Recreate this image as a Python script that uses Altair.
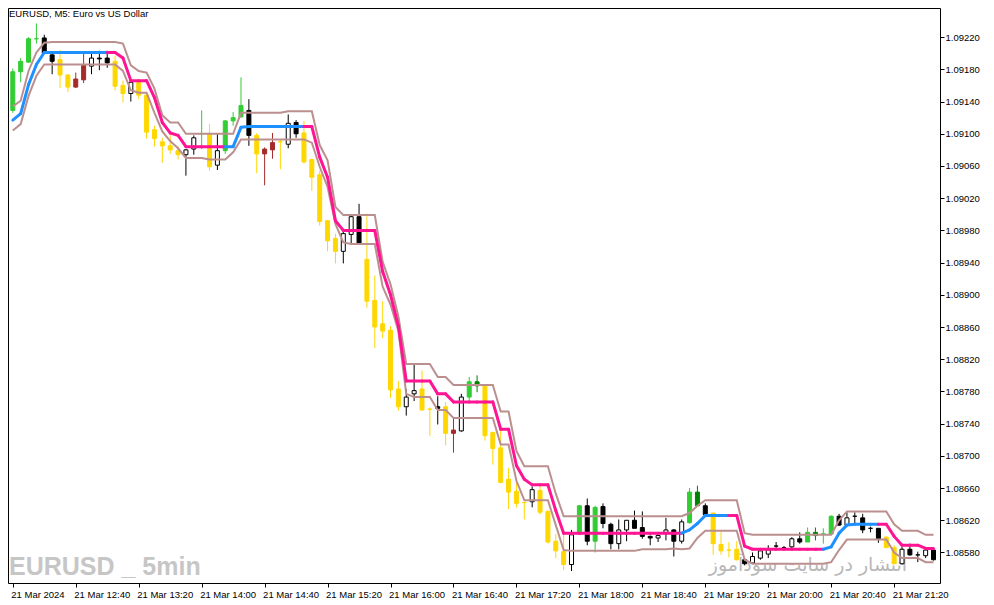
import json
import altair as alt
import pandas as pd

# ---------------- data ----------------
opens = [1.09129, 1.09177, 1.09189, 1.09218, 1.09219, 1.09198, 1.09192, 1.09173, 1.09158, 1.09167,
         1.09184, 1.09194, 1.09194, 1.09190, 1.09160, 1.09150, 1.09164, 1.09148, 1.09105, 1.09090,
         1.09085, 1.09079, 1.09074, 1.09081, 1.09100, 1.09099, 1.09061, 1.09079, 1.09116, 1.09121,
         1.09129, 1.09098, 1.09075, 1.09080, 1.09090, 1.09087, 1.09114, 1.09101, 1.09068, 1.09049,
         1.08992, 1.08970, 1.08954, 1.08975, 1.08997, 1.08944, 1.08893, 1.08864, 1.08856, 1.08783,
         1.08761, 1.08777, 1.08783, 1.08758, 1.08761, 1.08761, 1.08728, 1.08731, 1.08773, 1.08792,
         1.08787, 1.08729, 1.08710, 1.08671, 1.08656, 1.08642, 1.08643, 1.08657, 1.08631, 1.08594,
         1.08581, 1.08565, 1.08603, 1.08638, 1.08594, 1.08637, 1.08615, 1.08591, 1.08608, 1.08620,
         1.08611, 1.08600, 1.08598, 1.08604, 1.08608, 1.08594, 1.08617, 1.08655, 1.08638, 1.08629,
         1.08590, 1.08583, 1.08584, 1.08571, 1.08567, 1.08573, 1.08578, 1.08588, 1.08586, 1.08587,
         1.08597, 1.08593, 1.08605, 1.08603, 1.08603, 1.08625, 1.08614, 1.08625, 1.08623, 1.08610,
         1.08610, 1.08599, 1.08586, 1.08566, 1.08584, 1.08577, 1.08576, 1.08583]
highs = [1.09181, 1.09194, 1.09220, 1.09237, 1.09223, 1.09199, 1.09204, 1.09174, 1.09176, 1.09202,
         1.09199, 1.09203, 1.09203, 1.09197, 1.09166, 1.09166, 1.09167, 1.09149, 1.09110, 1.09095,
         1.09098, 1.09084, 1.09081, 1.09098, 1.09129, 1.09112, 1.09100, 1.09117, 1.09127, 1.09170,
         1.09143, 1.09101, 1.09083, 1.09101, 1.09092, 1.09124, 1.09117, 1.09116, 1.09069, 1.09054,
         1.08993, 1.08976, 1.08980, 1.08999, 1.09013, 1.09001, 1.08924, 1.08892, 1.08861, 1.08793,
         1.08783, 1.08815, 1.08806, 1.08760, 1.08774, 1.08767, 1.08746, 1.08777, 1.08798, 1.08800,
         1.08789, 1.08730, 1.08733, 1.08685, 1.08667, 1.08643, 1.08662, 1.08665, 1.08632, 1.08603,
         1.08603, 1.08608, 1.08639, 1.08647, 1.08638, 1.08641, 1.08617, 1.08621, 1.08620, 1.08632,
         1.08631, 1.08601, 1.08601, 1.08623, 1.08609, 1.08621, 1.08660, 1.08663, 1.08641, 1.08629,
         1.08608, 1.08593, 1.08594, 1.08573, 1.08580, 1.08584, 1.08589, 1.08593, 1.08588, 1.08599,
         1.08605, 1.08611, 1.08611, 1.08610, 1.08626, 1.08628, 1.08630, 1.08630, 1.08628, 1.08612,
         1.08610, 1.08600, 1.08589, 1.08587, 1.08591, 1.08581, 1.08584, 1.08585]
lows = [1.09126, 1.09164, 1.09188, 1.09212, 1.09199, 1.09174, 1.09157, 1.09152, 1.09157, 1.09163,
        1.09174, 1.09179, 1.09182, 1.09154, 1.09139, 1.09140, 1.09143, 1.09094, 1.09084, 1.09064,
        1.09075, 1.09068, 1.09048, 1.09074, 1.09081, 1.09054, 1.09055, 1.09075, 1.09110, 1.09120,
        1.09085, 1.09051, 1.09036, 1.09069, 1.09056, 1.09082, 1.09095, 1.09063, 1.09029, 1.08986,
        1.08954, 1.08939, 1.08939, 1.08964, 1.08962, 1.08884, 1.08834, 1.08846, 1.08772, 1.08756,
        1.08750, 1.08768, 1.08756, 1.08725, 1.08739, 1.08713, 1.08704, 1.08730, 1.08768, 1.08779,
        1.08719, 1.08689, 1.08666, 1.08634, 1.08636, 1.08621, 1.08636, 1.08627, 1.08591, 1.08573,
        1.08558, 1.08557, 1.08603, 1.08589, 1.08580, 1.08610, 1.08584, 1.08584, 1.08594, 1.08610,
        1.08597, 1.08589, 1.08593, 1.08595, 1.08575, 1.08591, 1.08616, 1.08638, 1.08626, 1.08577,
        1.08577, 1.08574, 1.08570, 1.08564, 1.08566, 1.08571, 1.08573, 1.08584, 1.08583, 1.08585,
        1.08591, 1.08593, 1.08595, 1.08591, 1.08603, 1.08613, 1.08613, 1.08616, 1.08604, 1.08605,
        1.08592, 1.08586, 1.08566, 1.08565, 1.08576, 1.08568, 1.08573, 1.08570]
closes = [1.09177, 1.09190, 1.09218, 1.09218, 1.09200, 1.09190, 1.09173, 1.09158, 1.09168, 1.09185,
          1.09194, 1.09193, 1.09188, 1.09159, 1.09150, 1.09164, 1.09148, 1.09102, 1.09094, 1.09085,
          1.09080, 1.09074, 1.09080, 1.09095, 1.09100, 1.09059, 1.09079, 1.09116, 1.09120, 1.09135,
          1.09098, 1.09075, 1.09081, 1.09089, 1.09090, 1.09113, 1.09100, 1.09065, 1.09046, 1.08991,
          1.08967, 1.08954, 1.08976, 1.08997, 1.08963, 1.08892, 1.08860, 1.08855, 1.08782, 1.08761,
          1.08773, 1.08781, 1.08757, 1.08758, 1.08759, 1.08728, 1.08732, 1.08773, 1.08792, 1.08787,
          1.08725, 1.08709, 1.08667, 1.08655, 1.08641, 1.08642, 1.08658, 1.08630, 1.08593, 1.08582,
          1.08565, 1.08602, 1.08638, 1.08594, 1.08636, 1.08616, 1.08591, 1.08608, 1.08620, 1.08610,
          1.08600, 1.08598, 1.08601, 1.08608, 1.08594, 1.08618, 1.08655, 1.08638, 1.08627, 1.08591,
          1.08582, 1.08583, 1.08571, 1.08566, 1.08575, 1.08582, 1.08584, 1.08588, 1.08586, 1.08597,
          1.08593, 1.08605, 1.08601, 1.08603, 1.08625, 1.08614, 1.08623, 1.08625, 1.08608, 1.08610,
          1.08597, 1.08586, 1.08566, 1.08584, 1.08577, 1.08577, 1.08583, 1.08571]
candle_colors = ["lime", "lime", "lime", "lime", "black", "black", "gold", "gold", "brown", "brown",
                 "white", "black", "black", "gold", "gold", "white", "gold", "gold", "gold", "gold",
                 "gold", "gold", "white", "white", "lime", "gold", "white", "lime", "lime", "lime",
                 "black", "gold", "brown", "brown", "gold", "white", "black", "gold", "gold", "gold",
                 "gold", "gold", "white", "white", "black", "gold", "gold", "gold", "gold", "gold",
                 "white", "white", "gold", "gold", "black", "gold", "brown", "white", "lime", "green",
                 "gold", "gold", "gold", "gold", "gold", "gold", "white", "gold", "gold", "gold",
                 "gold", "white", "lime", "black", "lime", "black", "black", "white", "white", "black",
                 "black", "black", "white", "white", "black", "white", "lime", "green", "black", "gold",
                 "gold", "gold", "gold", "black", "white", "white", "white", "black", "black", "white",
                 "black", "lime", "green", "lime", "lime", "black", "white", "black", "black", "black",
                 "black", "gold", "gold", "white", "black", "black", "white", "black"]
upper_band = [1.09134, 1.09141, 1.09178, 1.09201, 1.09213, 1.09214, 1.09214, 1.09214, 1.09214, 1.09214,
              1.09214, 1.09214, 1.09214, 1.09214, 1.09212, 1.09185, 1.09178, 1.09176, 1.09156, 1.09123,
              1.09114, 1.09114, 1.09100, 1.09100, 1.09100, 1.09100, 1.09100, 1.09100, 1.09100, 1.09126,
              1.09126, 1.09126, 1.09126, 1.09126, 1.09126, 1.09128, 1.09128, 1.09128, 1.09128, 1.09086,
              1.09067, 1.09009, 1.08999, 1.08999, 1.08999, 1.08999, 1.08999, 1.08941, 1.08913, 1.08873,
              1.08814, 1.08814, 1.08814, 1.08814, 1.08798, 1.08798, 1.08788, 1.08788, 1.08788, 1.08788,
              1.08788, 1.08788, 1.08755, 1.08755, 1.08706, 1.08687, 1.08687, 1.08687, 1.08687, 1.08653,
              1.08625, 1.08625, 1.08625, 1.08625, 1.08625, 1.08625, 1.08625, 1.08625, 1.08625, 1.08625,
              1.08625, 1.08625, 1.08625, 1.08625, 1.08625, 1.08625, 1.08629, 1.08638, 1.08645, 1.08645,
              1.08645, 1.08645, 1.08645, 1.08604, 1.08602, 1.08602, 1.08602, 1.08602, 1.08602, 1.08602,
              1.08602, 1.08602, 1.08602, 1.08602, 1.08602, 1.08620, 1.08631, 1.08631, 1.08631, 1.08631,
              1.08631, 1.08631, 1.08615, 1.08607, 1.08607, 1.08607, 1.08602, 1.08602]
middle_band = [1.09117, 1.09125, 1.09161, 1.09186, 1.09201, 1.09201, 1.09201, 1.09201, 1.09201, 1.09201,
               1.09201, 1.09201, 1.09201, 1.09201, 1.09194, 1.09166, 1.09166, 1.09166, 1.09145, 1.09114,
               1.09101, 1.09098, 1.09084, 1.09084, 1.09084, 1.09084, 1.09084, 1.09084, 1.09084, 1.09108,
               1.09109, 1.09109, 1.09109, 1.09109, 1.09109, 1.09109, 1.09109, 1.09109, 1.09109, 1.09071,
               1.09046, 1.08992, 1.08980, 1.08980, 1.08980, 1.08980, 1.08980, 1.08929, 1.08900, 1.08861,
               1.08793, 1.08793, 1.08793, 1.08793, 1.08777, 1.08777, 1.08767, 1.08767, 1.08767, 1.08767,
               1.08767, 1.08767, 1.08733, 1.08733, 1.08688, 1.08671, 1.08664, 1.08664, 1.08664, 1.08632,
               1.08604, 1.08604, 1.08604, 1.08604, 1.08604, 1.08604, 1.08604, 1.08604, 1.08604, 1.08604,
               1.08604, 1.08604, 1.08604, 1.08604, 1.08604, 1.08604, 1.08608, 1.08616, 1.08626, 1.08626,
               1.08626, 1.08626, 1.08626, 1.08588, 1.08584, 1.08584, 1.08584, 1.08584, 1.08584, 1.08584,
               1.08584, 1.08584, 1.08584, 1.08584, 1.08587, 1.08604, 1.08614, 1.08615, 1.08615, 1.08615,
               1.08615, 1.08615, 1.08600, 1.08589, 1.08589, 1.08589, 1.08585, 1.08585]
lower_band = [1.09104, 1.09112, 1.09147, 1.09172, 1.09186, 1.09186, 1.09186, 1.09186, 1.09186, 1.09186,
              1.09186, 1.09186, 1.09186, 1.09186, 1.09178, 1.09154, 1.09151, 1.09151, 1.09126, 1.09103,
              1.09091, 1.09082, 1.09070, 1.09070, 1.09070, 1.09068, 1.09068, 1.09068, 1.09077, 1.09093,
              1.09093, 1.09093, 1.09093, 1.09093, 1.09093, 1.09093, 1.09093, 1.09093, 1.09089, 1.09059,
              1.09034, 1.08988, 1.08965, 1.08963, 1.08963, 1.08963, 1.08963, 1.08910, 1.08888, 1.08855,
              1.08777, 1.08773, 1.08773, 1.08773, 1.08757, 1.08757, 1.08747, 1.08747, 1.08747, 1.08747,
              1.08747, 1.08747, 1.08714, 1.08714, 1.08669, 1.08645, 1.08645, 1.08645, 1.08645, 1.08614,
              1.08583, 1.08582, 1.08582, 1.08582, 1.08582, 1.08582, 1.08582, 1.08582, 1.08582, 1.08582,
              1.08584, 1.08584, 1.08584, 1.08584, 1.08585, 1.08584, 1.08585, 1.08598, 1.08607, 1.08607,
              1.08607, 1.08607, 1.08607, 1.08571, 1.08566, 1.08566, 1.08566, 1.08566, 1.08566, 1.08566,
              1.08566, 1.08566, 1.08566, 1.08566, 1.08568, 1.08583, 1.08596, 1.08596, 1.08596, 1.08596,
              1.08596, 1.08596, 1.08580, 1.08573, 1.08573, 1.08573, 1.08568, 1.08568]
# trend state of the middle line per bar: u = rising (blue), d = falling (pink)
trend_codes = ("uuuuuuuuuuuuu" + "ddddddddddddddd" + "uuuuuuuuuu"
               + "dddddddddddddddddddddddddddddddddddddddddddddddd" + "uuuuuu"
               + "dddddddddddd" + "uuuuuuu" + "ddddddd")

price_ticks = [1.08580, 1.08620, 1.08660, 1.08700, 1.08740, 1.08780, 1.08820, 1.08860, 1.08900,
               1.08940, 1.08980, 1.09020, 1.09060, 1.09100, 1.09140, 1.09180, 1.09220]
time_tick_bars = [0, 8, 16, 24, 32, 40, 48, 56, 64, 72, 80, 88, 96, 104, 112]
time_tick_labels = ["21 Mar 2024", "21 Mar 12:40", "21 Mar 13:20", "21 Mar 14:00", "21 Mar 14:40",
                    "21 Mar 15:20", "21 Mar 16:00", "21 Mar 16:40", "21 Mar 17:20", "21 Mar 18:00",
                    "21 Mar 18:40", "21 Mar 19:20", "21 Mar 20:00", "21 Mar 20:40", "21 Mar 21:20"]

title_text = "EURUSD, M5:  Euro vs US Dollar"
watermark_text = "EURUSD _ 5min"
persian_text = "انتشار در سایت سودآموز"

# ---------------- styling ----------------
FONT = "Liberation Sans"
FS = 9.5
fill_map = {"lime": "#32CD32", "green": "#008000", "gold": "#FFD700", "brown": "#A52A2A",
            "black": "#000000", "white": "#FFFFFF"}
edge_map = {"lime": "#32CD32", "green": "#008000", "gold": "#FFD700", "brown": "#A52A2A",
            "black": "#000000", "white": "#000000"}
trend_color = {"u": "#1E90FF", "d": "#FF1493"}
BAND = "#BC8F8F"

W, H = 932, 575
x_dom = [0.025, 117.19]
y_dom = [1.085421, 1.092562]

n = len(opens)
df = pd.DataFrame({"bar": list(range(n)), "open": opens, "high": highs, "low": lows,
                   "close": closes, "kind": candle_colors,
                   "upper": upper_band, "mid": middle_band, "lower": lower_band})
df["top"] = df[["open", "close"]].max(axis=1)
df["bot"] = df[["open", "close"]].min(axis=1)
df["fillc"] = df["kind"].map(fill_map)
df["edgec"] = df["kind"].map(edge_map)

seg = pd.DataFrame({
    "x0": df["bar"].iloc[:-1].values, "x1": df["bar"].iloc[1:].values,
    "y0": df["mid"].iloc[:-1].values, "y1": df["mid"].iloc[1:].values,
    "col": [trend_color[c] for c in trend_codes[1:]],
})

xscale = alt.Scale(domain=x_dom, nice=False, zero=False)
yscale = alt.Scale(domain=y_dom, nice=False, zero=False)

label_expr = f"{json.dumps(time_tick_labels)}[indexof({json.dumps(time_tick_bars)}, datum.value)]"
x_axis = alt.Axis(values=time_tick_bars, labelExpr=label_expr, orient="bottom", title=None,
                  grid=False, domain=False, ticks=True, tickSize=4, tickColor="black",
                  labelAlign="left", labelFont=FONT, labelFontSize=FS, labelColor="black",
                  labelPadding=2, labelOffset=-2, labelOverlap=False, labelBound=False,
                  labelFlush=False)
y_axis = alt.Axis(values=price_ticks, format=".5f", orient="right", title=None, grid=False,
                  domain=False, ticks=True, tickSize=4, tickColor="black", labelFont=FONT,
                  labelFontSize=FS, labelColor="black", labelPadding=1, labelOverlap=False,
                  labelFlush=False, labelBound=False)


def X(field):
    return alt.X(field, scale=xscale, axis=x_axis)


def Y(field):
    return alt.Y(field, scale=yscale, axis=y_axis)


base = alt.Chart(df)

wicks = base.mark_rule(strokeWidth=1, clip=True).encode(
    x=X("bar:Q"), y=Y("low:Q"), y2="high:Q",
    stroke=alt.Stroke("edgec:N", scale=None),
)
bodies = base.mark_bar(size=4, strokeWidth=1, clip=True).encode(
    x=X("bar:Q"), y=Y("top:Q"), y2="bot:Q",
    fill=alt.Fill("fillc:N", scale=None),
    stroke=alt.Stroke("edgec:N", scale=None),
)
upper_line = base.mark_line(color=BAND, strokeWidth=2, clip=True).encode(
    x=X("bar:Q"), y=Y("upper:Q"))
lower_line = base.mark_line(color=BAND, strokeWidth=2, clip=True).encode(
    x=X("bar:Q"), y=Y("lower:Q"))
mid_line = alt.Chart(seg).mark_rule(strokeWidth=3, strokeCap="round", clip=True).encode(
    x=X("x0:Q"), x2="x1:Q", y=Y("y0:Q"), y2="y1:Q",
    stroke=alt.Stroke("col:N", scale=None),
)

title_mark = alt.Chart(pd.DataFrame({"t": [title_text]})).mark_text(
    align="left", baseline="top", font=FONT, fontSize=9.5, color="black").encode(
    x=alt.value(1), y=alt.value(1), text="t:N")
watermark = alt.Chart(pd.DataFrame({"t": [watermark_text]})).mark_text(
    align="left", baseline="alphabetic", font=FONT, fontSize=25, fontWeight="bold",
    color="#C6C6C6").encode(x=alt.value(1), y=alt.value(567), text="t:N")
persian = alt.Chart(pd.DataFrame({"t": [persian_text]})).mark_text(
    align="center", baseline="alphabetic", font="DejaVu Sans", fontSize=19,
    color="#B8B8B8").encode(x=alt.value(800), y=alt.value(563), text="t:N")

chart = alt.layer(
    watermark, persian, wicks, bodies, upper_line, lower_line, mid_line, title_mark
).properties(width=W, height=H, padding=0, background="white").configure_view(
    stroke="black", strokeWidth=1)

chart.save("out.html", embed_options={"renderer": "svg", "actions": False})
